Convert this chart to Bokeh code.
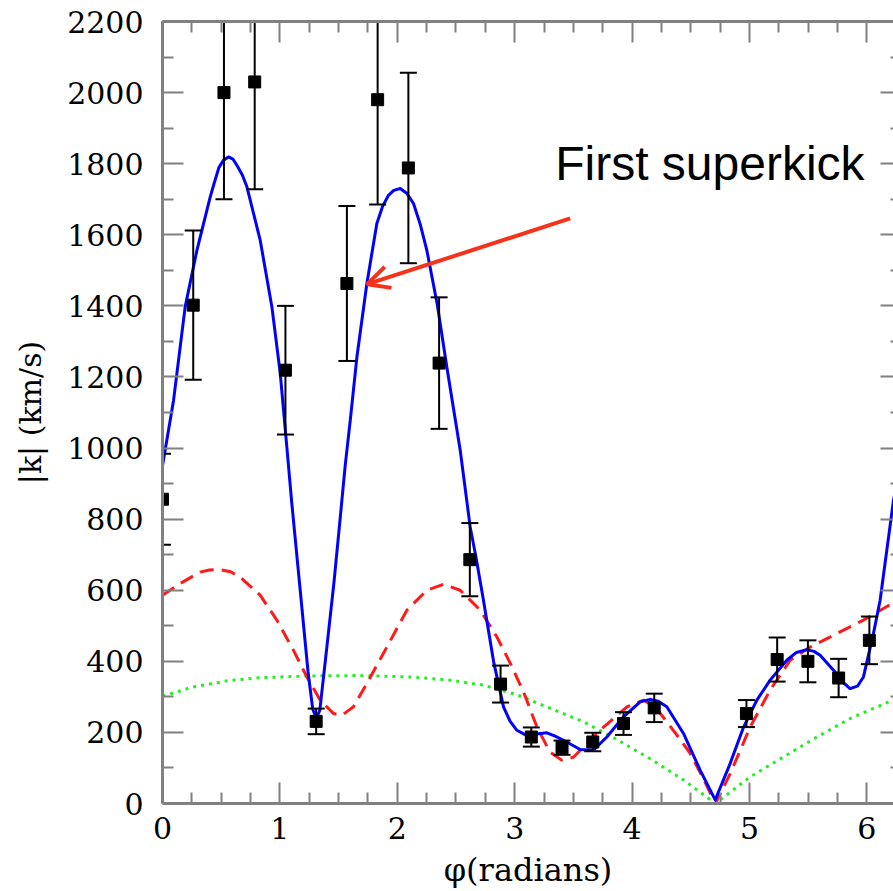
from bokeh.plotting import figure
from bokeh.models import (LinearAxis, FixedTicker, Range1d, Label, Arrow,
                          OpenHead, ColumnDataSource, CustomJSTickFormatter)
from bokeh.embed import file_html
from bokeh.resources import INLINE

# ---------------- data ----------------
phi_pts = [0.0, 0.2618, 0.5236, 0.7854, 1.0472, 1.3090, 1.5708, 1.8326,
           2.0944, 2.3562, 2.6180, 2.8798, 3.1416, 3.4034, 3.6652, 3.9270,
           4.1888, 4.9742, 5.2360, 5.4978, 5.7596, 6.0214]
k_pts = [856, 1402, 2000, 2030, 1219, 231, 1463, 1980,
         1788, 1239, 686, 336, 187, 157, 173, 225,
         269, 253, 405, 400, 353, 459]
k_err = [128, 210, 300, 302, 181, 36, 218, 295,
         268, 185, 103, 52, 27, 20, 26, 32,
         40, 38, 62, 59, 54, 67]

blue_phi = [0.0, 0.094, 0.193, 0.293, 0.406, 0.44, 0.48, 0.52, 0.562, 0.60,
            0.64, 0.68, 0.719, 0.832, 0.932, 1.003, 1.06, 1.10, 1.17, 1.24,
            1.28, 1.31, 1.34, 1.40, 1.46, 1.51, 1.556, 1.60, 1.656, 1.741,
            1.826, 1.875, 1.925, 1.97, 2.025, 2.08, 2.138, 2.195, 2.252, 2.34,
            2.422, 2.536, 2.621, 2.672, 2.734, 2.82, 2.905, 2.96, 3.019, 3.08,
            3.132, 3.20, 3.274, 3.34, 3.416, 3.558, 3.671, 3.785, 3.927, 4.069,
            4.154, 4.22, 4.296, 4.438, 4.58, 4.708, 4.836, 4.95, 5.063, 5.176,
            5.318, 5.40, 5.489, 5.55, 5.602, 5.716, 5.80, 5.857, 5.92, 5.971,
            6.056, 6.113, 6.227, 6.283]
blue_k = [950, 1134, 1397, 1556, 1706, 1745, 1789, 1810, 1819, 1813,
          1792, 1768, 1735, 1585, 1397, 1210, 1000, 850, 610, 370,
          265, 240, 262, 440, 620, 790, 950, 1080, 1256, 1463,
          1632, 1680, 1711, 1725, 1730, 1717, 1688, 1630, 1556, 1405,
          1228, 994, 778, 690, 572, 400, 272, 232, 206, 195,
          192, 196, 199, 190, 178, 152, 150, 187, 244, 286,
          293, 288, 272, 197, 94, 10, 113, 215, 291, 347,
          403, 425, 433, 428, 417, 375, 340, 323, 330, 356,
          478, 572, 853, 950]

red_phi = [0.0, 0.151, 0.321, 0.40, 0.491, 0.58, 0.662, 0.832, 0.974, 1.116,
           1.23, 1.343, 1.457, 1.528, 1.627, 1.741, 1.911, 2.082, 2.252, 2.394,
           2.536, 2.706, 2.848, 2.962, 3.08, 3.19, 3.30, 3.40, 3.50, 3.586,
           3.757, 3.956, 4.097, 4.20, 4.296, 4.40, 4.495, 4.60, 4.71, 4.836,
           5.006, 5.176, 5.347, 5.517, 5.744, 5.971, 6.227, 6.283]
red_k = [586, 619, 651, 657, 658, 652, 637, 586, 516, 431,
         356, 291, 253, 248, 272, 338, 440, 544, 600, 617,
         600, 544, 469, 395, 310, 215, 145, 122, 130, 159,
         215, 272, 291, 270, 230, 185, 141, 75, 0, 84,
         215, 319, 403, 440, 478, 516, 565, 586]

green_phi = [0.0, 0.264, 0.548, 0.832, 1.258, 1.684, 2.11, 2.45, 2.734, 3.019,
             3.302, 3.586, 3.871, 4.154, 4.438, 4.71, 5.006, 5.29, 5.574, 5.857,
             6.283]
green_k = [302, 328, 345, 354, 359, 360, 356, 347, 333, 306,
           268, 230, 180, 126, 66, 0, 75, 131, 187, 239,
           300]

x_major_ticks = [0, 1, 2, 3, 4, 5, 6]
y_major_ticks = [0, 200, 400, 600, 800, 1000, 1200, 1400, 1600, 1800, 2000, 2200]

annot_text = "First superkick"
annot_x, annot_y = 3.345, 1800
arrow_tail = (3.473, 1646)
arrow_tip = (1.744, 1461)

# ---------------- figure ----------------
X_END = 6.227
p = figure(width=893, height=891, x_range=Range1d(0, X_END), y_range=Range1d(0, 2200),
           output_backend="svg", toolbar_location=None,
           min_border_left=162, min_border_right=0, min_border_top=21, min_border_bottom=88,
           background_fill_color="white", border_fill_color="white")
p.outline_line_color = None
p.xgrid.visible = False
p.ygrid.visible = False

x_minor = [m + f for m in x_major_ticks for f in (0.25, 0.5, 0.75)]
y_minor = [m + 100 for m in y_major_ticks]

GRAY = "#808080"
TICK_FONT = "DejaVu Serif"


def style(ax, xdir):
    ax.ticker = FixedTicker(ticks=x_major_ticks if xdir else y_major_ticks,
                            minor_ticks=x_minor if xdir else y_minor)
    ax.axis_line_color = GRAY
    ax.axis_line_width = 3
    ax.major_tick_line_color = GRAY
    ax.major_tick_line_width = 2
    ax.minor_tick_line_color = GRAY
    ax.minor_tick_line_width = 2
    ax.major_tick_in = 21
    ax.major_tick_out = 0
    ax.minor_tick_in = 11
    ax.minor_tick_out = 0
    ax.major_label_text_font = TICK_FONT
    ax.major_label_text_font_size = "30px"
    ax.major_label_text_color = "black"
    ax.axis_label_text_font = TICK_FONT
    ax.axis_label_text_font_size = "30px"
    ax.axis_label_text_font_style = "normal"
    ax.axis_label_text_color = "black"


xa = p.xaxis[0]
ya = p.yaxis[0]
style(xa, True)
style(ya, False)
xa.axis_label = "φ(radians)"
xa.axis_label_text_font_size = "32px"
xa.major_label_standoff = 13
xa.axis_label_standoff = 9
ya.axis_label = "|k| (km/s)"
ya.major_label_standoff = 19
ya.axis_label_standoff = 16

top = LinearAxis()
style(top, True)
top.formatter = CustomJSTickFormatter(code="return '';")
top.major_label_standoff = 0
p.add_layout(top, "above")

right = LinearAxis()
style(right, False)
right.formatter = CustomJSTickFormatter(code="return '';")
right.major_label_standoff = 0
right.axis_line_color = None
right.major_tick_in = 13
right.minor_tick_in = 3
p.add_layout(right, "right")

# ---------------- curves ----------------
p.line(green_phi, green_k, line_color="#22ee22", line_width=3, line_dash="3 5")
p.line(red_phi, red_k, line_color="#ff1a1a", line_width=3, line_dash="14 8")
p.line(blue_phi, blue_k, line_color="#0000ff", line_width=3, line_join="round")

# ---------------- data points with error bars ----------------
src = ColumnDataSource(dict(
    x=phi_pts, y=k_pts,
    lo=[v - e for v, e in zip(k_pts, k_err)],
    hi=[v + e for v, e in zip(k_pts, k_err)]))
p.segment(x0="x", y0="lo", x1="x", y1="hi", source=src, line_color="black", line_width=2)
p.scatter(x="x", y="lo", source=src, marker="dash", size=17, line_color="black", line_width=2)
p.scatter(x="x", y="hi", source=src, marker="dash", size=17, line_color="black", line_width=2)
p.scatter(x="x", y="y", source=src, marker="square", size=12, fill_color="black", line_color="black")

# ---------------- annotation ----------------
p.add_layout(Label(x=annot_x, y=annot_y, text=annot_text, text_font="Liberation Sans",
                   text_font_size="48px", text_color="black", text_baseline="alphabetic"))
p.add_layout(Arrow(end=OpenHead(size=22, line_color="#f5331a", line_width=4),
                   x_start=arrow_tail[0], y_start=arrow_tail[1],
                   x_end=arrow_tip[0], y_end=arrow_tip[1],
                   line_color="#f5331a", line_width=4))

open("out.html", "w").write(file_html(p, INLINE))
